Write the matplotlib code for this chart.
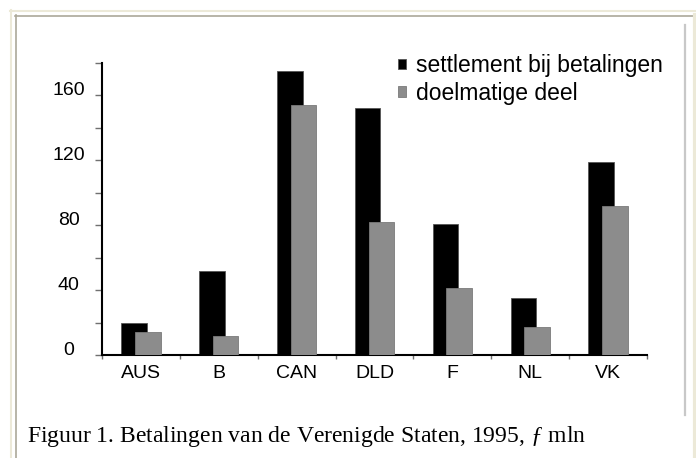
import numpy as np
import matplotlib
matplotlib.use("Agg")
import matplotlib.pyplot as plt
from matplotlib.lines import Line2D

# data
landen = ["AUS", "B", "CAN", "DLD", "F", "NL", "VK"]
settlement = [20, 52, 175, 152, 81, 35, 119]
doelmatig = [14, 12, 154, 82, 41, 17, 92]
reeks_namen = ["settlement bij betalingen", "doelmatige deel"]
y_ticks = [0, 20, 40, 60, 80, 100, 120, 140, 160, 180]
y_labels = ["0", "", "40", "", "80", "", "120", "", "160", ""]
onderschrift = "Figuur 1. Betalingen van de Verenigde Staten, 1995, $\\mathit{ƒ}$ mln"

plt.rcParams["font.family"] = ["Liberation Sans", "DejaVu Sans"]
plt.rcParams["mathtext.fontset"] = "custom"
plt.rcParams["mathtext.rm"] = "Liberation Serif"
plt.rcParams["mathtext.it"] = "Liberation Serif:italic"

W, H = 696, 458
fig = plt.figure(figsize=(W / 100, H / 100), dpi=100)


def fx(px):
    return px / W


def fy(py):
    return 1 - py / H


# kaderlijnen rond de figuur
beige = "#ece9d8"
grijs = "#aca899"
fig.add_artist(Line2D([fx(10), 1], [fy(10.5), fy(10.5)], color=beige, lw=1.5))
fig.add_artist(Line2D([fx(10.5), fx(10.5)], [fy(10), 0], color=beige, lw=1.5))
fig.add_artist(Line2D([fx(15), fx(693)], [fy(15.5), fy(15.5)], color=grijs, lw=1.2))
fig.add_artist(Line2D([fx(15.5), fx(15.5)], [fy(15), 0], color=grijs, lw=1.2))
fig.add_artist(Line2D([fx(694.5), fx(694.5)], [fy(15), 0], color=beige, lw=3))
fig.add_artist(Line2D([fx(685), fx(685)], [fy(25), fy(415)], color="#c8c8c8", lw=1.6))

ax = fig.add_axes([fx(102), fy(355), fx(647) - fx(102), fy(63) - fy(355)])

x = np.arange(len(landen))
breedte = 0.33
b1 = ax.bar(x - 0.088, settlement, breedte, color="black", edgecolor="#555555",
            linewidth=0.6, zorder=2, label=reeks_namen[0])
b2 = ax.bar(x + 0.088, doelmatig, breedte, color="#8c8c8c", edgecolor="#7a7a7a",
            linewidth=0.6, zorder=3, label=reeks_namen[1])

ax.set_xlim(-0.5, len(landen) - 0.5)
ax.set_ylim(0, 180)

for kant in ["top", "right"]:
    ax.spines[kant].set_visible(False)
ax.spines["left"].set_linewidth(1.5)
ax.spines["bottom"].set_linewidth(1.5)

# x: streepjes op de grenzen, namen in het midden
ax.set_xticks(np.arange(len(landen) + 1) - 0.5)
ax.set_xticklabels([])
ax.set_xticks(x, minor=True)
ax.set_xticklabels(landen, minor=True, fontsize=14)
ax.tick_params(axis="x", which="major", length=3, width=1, color="#707070", direction="out")
ax.tick_params(axis="x", which="minor", length=0, pad=7)

ax.set_yticks(y_ticks)
ax.set_yticklabels(y_labels, fontsize=14)
ax.tick_params(axis="y", length=5, width=1, color="#707070", pad=19)
for t in ax.yaxis.get_major_ticks():
    t.label1.set_horizontalalignment("center")
    t.label1.set_verticalalignment("baseline")

ax.legend(handles=[b1, b2], labels=reeks_namen, loc="upper left",
          bbox_to_anchor=(fx(398), fy(54)), bbox_transform=fig.transFigure,
          frameon=False, fontsize=16.5, handlelength=0.33, handleheight=0.33,
          handletextpad=0.45, labelspacing=0.2, borderpad=0, borderaxespad=0)

fig.text(fx(27), fy(442), onderschrift, fontsize=17, family="Liberation Serif",
         va="baseline", ha="left")

fig.savefig("out.png", dpi=100)
